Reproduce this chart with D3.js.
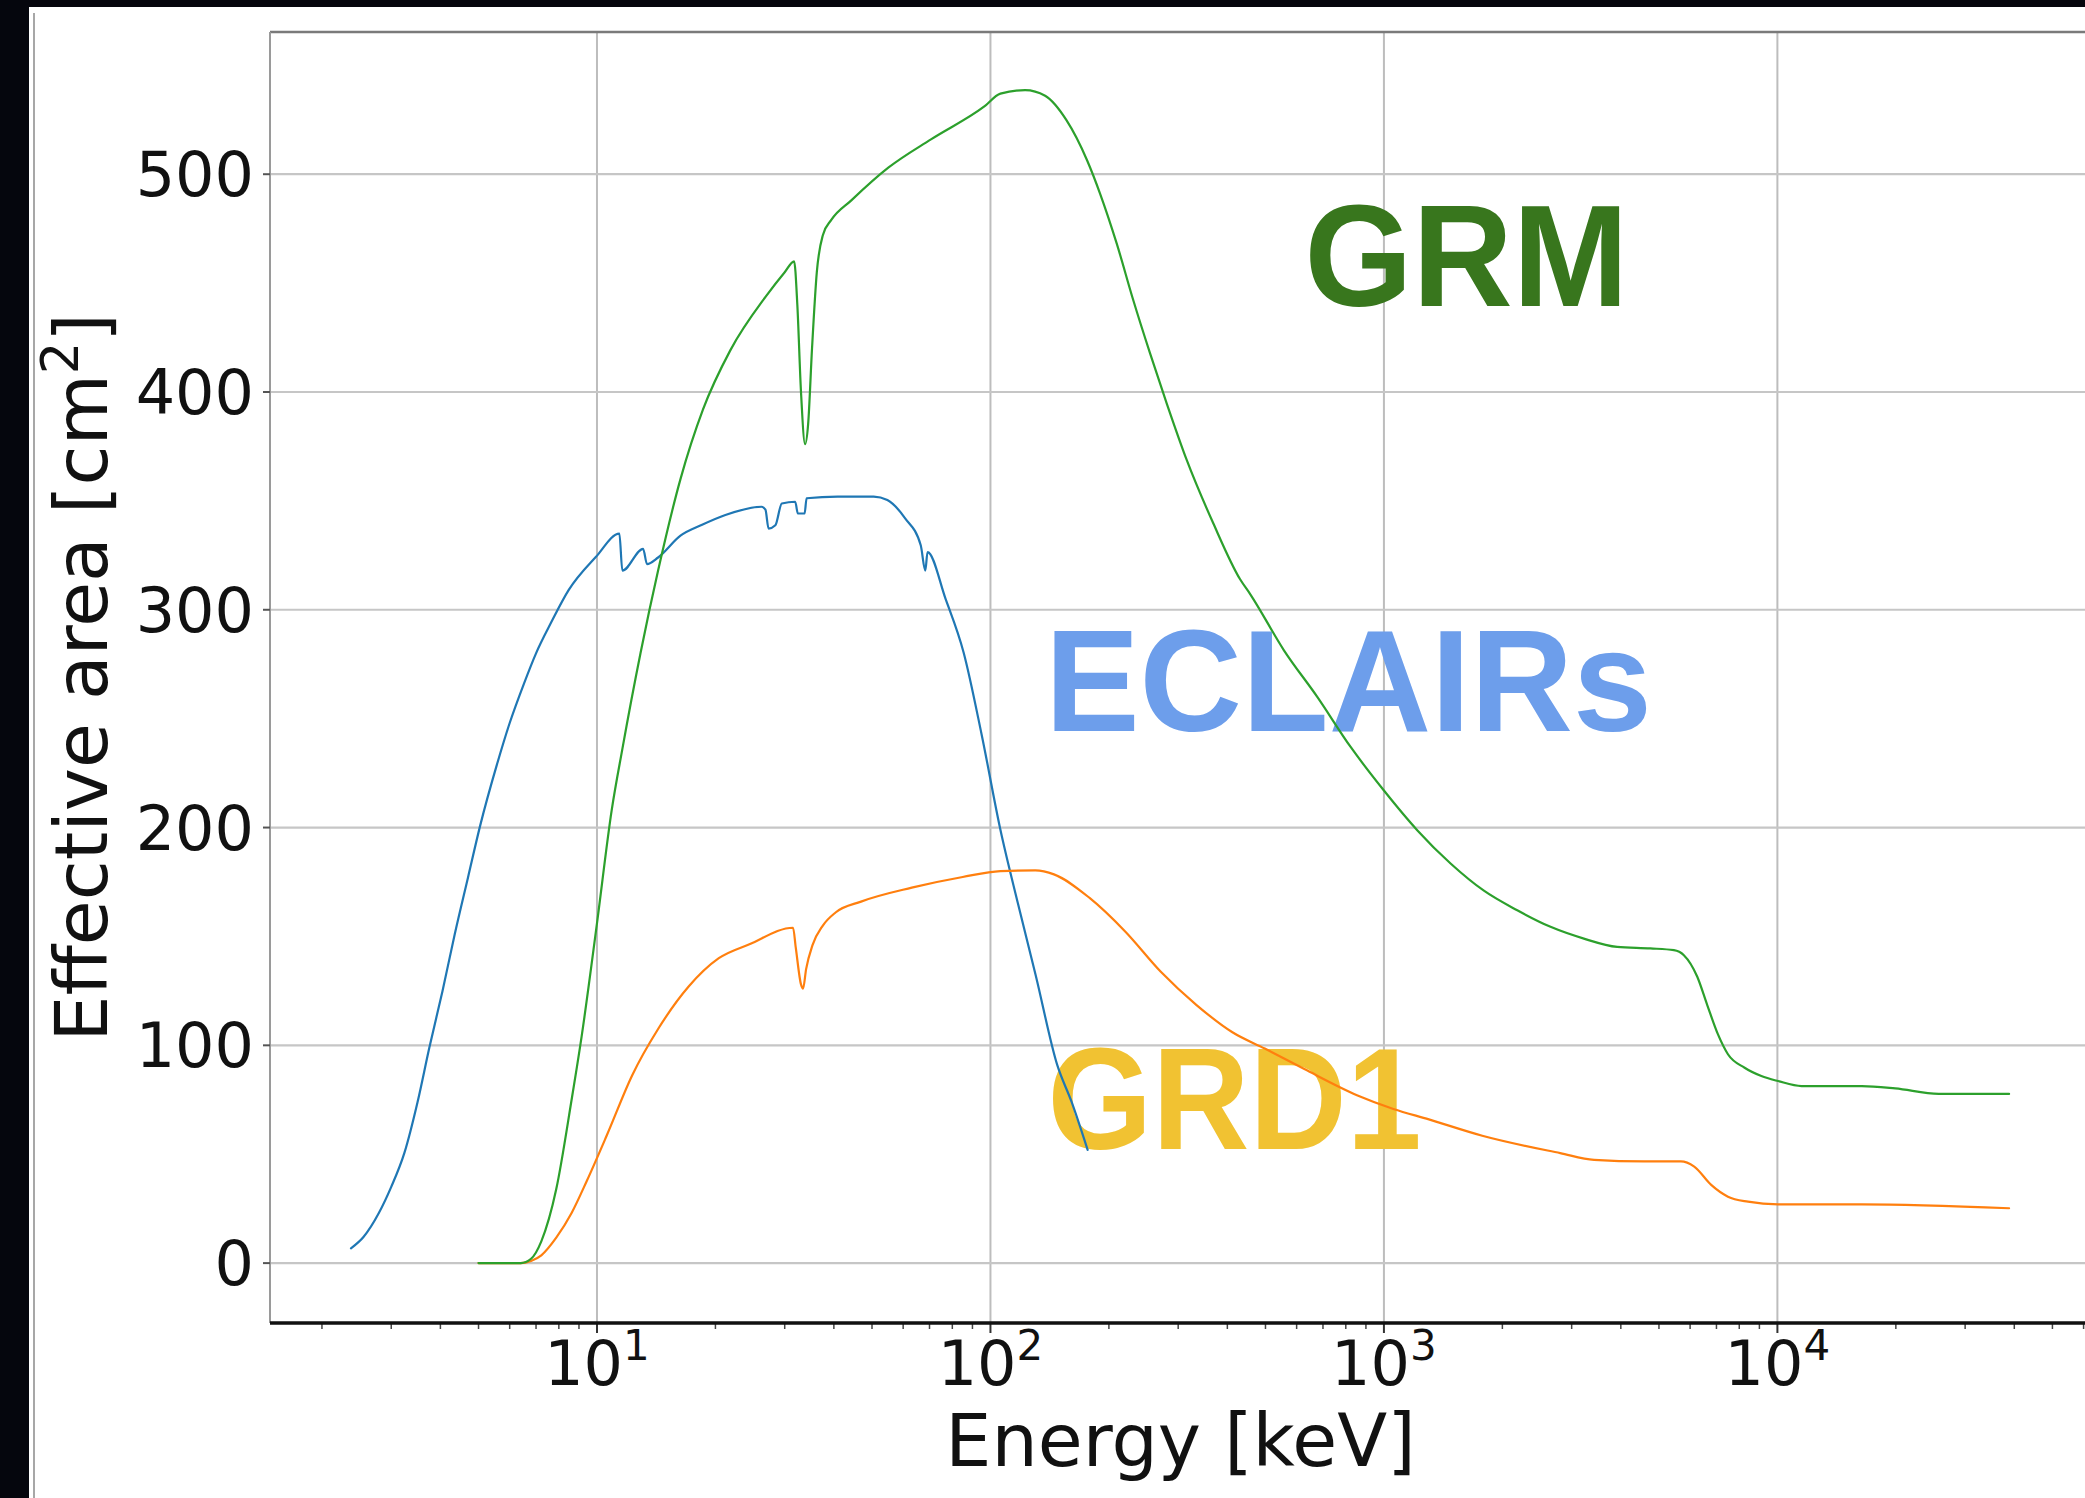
<!DOCTYPE html>
<html>
<head>
<meta charset="utf-8">
<script src="https://cdn.jsdelivr.net/npm/d3@7"></script>
<style>
  html, body { margin: 0; padding: 0; background: #05060d; }
  svg { display: block; }
</style>
</head>
<body>
<div id="chart"></div>
<script>
// effective area curves, [energy keV, area cm^2]
const eclairs = [
    [2.37, 6.8], [2.55, 12], [2.79, 23], [3.0, 35], [3.24, 50.6], [3.5, 74], [3.75, 99],
    [4.05, 125], [4.35, 151], [4.7, 177], [5.05, 201], [5.57, 229], [6.0, 248], [6.52, 266],
    [7.0, 280], [7.64, 294], [8.47, 309], [9.93, 324.2], [11.4, 335], [11.6, 318], [13.1, 328],
    [13.4, 321], [14.3, 324], [16.3, 334], [18.5, 339], [21.2, 343.5], [26.2, 347.3],
    [26.8, 346], [27.3, 337.3], [28.4, 338.8], [29.5, 348.8], [31.9, 349.6], [32.4, 344.2],
    [33.7, 344.2], [34.1, 351.2], [40.9, 352], [50.5, 352], [54.7, 350.4], [60.7, 342],
    [66.5, 329.6], [68.3, 318], [69.2, 326.5], [76.9, 305], [85.5, 280.3], [94.9, 243],
    [106, 199], [117.5, 165], [130.4, 132], [147.8, 91], [160.8, 74], [176.6, 52]
];
const grd1 = [
    [5.0, 0], [6.4, 0], [6.8, 1], [7.22, 3.6], [7.88, 11.7], [8.62, 23], [9.42, 37.7],
    [10.6, 58.8], [12.3, 86.4], [14.3, 107.5], [17.1, 127], [20.4, 140], [24.4, 146.4],
    [31.5, 154], [32.0, 145], [33.0, 128], [33.4, 126], [34.0, 135], [35.3, 146],
    [37.5, 155], [40.4, 161], [46.9, 166], [63.1, 172.4], [85, 177.3], [106, 180],
    [130, 180.3], [145, 178.5], [178.6, 167.7], [220, 152.3], [271, 133.8], [334, 118.5],
    [412, 106], [498, 98.5], [626, 89.2], [857, 77], [1057, 70.8], [1301, 66], [1778, 58.5],
    [2806, 50.5], [3420, 47.4], [4583, 46.7], [5683, 46.7], [6147, 44.3], [6788, 35.9],
    [7487, 30.5], [8420, 28.2], [10040, 27], [16380, 27], [38800, 25.2]
];
const grm = [
    [5.0, 0], [6.4, 0], [6.8, 2], [7.22, 10], [7.88, 34], [8.62, 75], [9.14, 104], [10, 156],
    [10.9, 208], [11.6, 236], [12.9, 280], [14.3, 318], [16.3, 360], [18.6, 392], [21.8, 419],
    [26.9, 444], [30.0, 455], [31.7, 460], [32.3, 440], [33.0, 400], [33.8, 376], [34.4, 385],
    [35.2, 420], [36.2, 455], [37.5, 472], [39.4, 479], [44.3, 488], [55, 503], [70.6, 516],
    [96.3, 531], [106, 537], [122.5, 538.6], [137.7, 536], [156, 524.8], [176, 506.4],
    [190, 491], [209.5, 468], [230.8, 442], [254.5, 417.7], [280.6, 394.7], [315.5, 368.7],
    [368.6, 339.6], [431, 314], [458, 307], [557, 281.4], [677, 260], [823, 237], [1000, 217],
    [1215, 198.8], [1477, 183.5], [1795, 171], [2182, 162], [2651, 154.4], [3222, 149],
    [3915, 145.2], [4756, 144.5], [5456, 143.7], [5785, 141.4], [6257, 131.5], [6633, 118.5],
    [7063, 105], [7487, 95.9], [8254, 89.7], [9104, 85.9], [10040, 83.6], [11520, 81.3],
    [16380, 81.3], [19930, 80.2], [25700, 77.7], [38800, 77.7]
];
const yTicks = [0, 100, 200, 300, 400, 500];
const xTickExps = [1, 2, 3, 4];
const instrumentNames = ["GRM", "ECLAIRs", "GRD1"];

const width = 2085, height = 1498;
const plot = { left: 270, right: 2091, top: 32, bottom: 1323 };

const colors = {
    eclairs: "#1f77b4",
    grd1: "#ff7f0e",
    grm: "#2ca02c",
    labels: { GRM: "#38761d", ECLAIRs: "#6d9eeb", GRD1: "#f1c232" }
};
// where each name sits, in data units (energy, area), and how much its width is squeezed
const labelAnchor = { GRM: [628, 439.5], ECLAIRs: [137.6, 244.3], GRD1: [139.6, 52.4] };
const labelSqueeze = { GRM: 0.964, ECLAIRs: 0.985, GRD1: 0.935 };

const svg = d3.select("#chart").append("svg")
    .attr("width", width)
    .attr("height", height);

// dark backdrop and the white slide panel
svg.append("rect").attr("width", width).attr("height", height).attr("fill", "#05060d");
svg.append("rect")
    .attr("x", 29).attr("y", 7)
    .attr("width", width - 29).attr("height", height - 7)
    .attr("fill", "#ffffff");
svg.append("line")
    .attr("x1", 34).attr("x2", 34).attr("y1", 13).attr("y2", height)
    .attr("stroke", "#8a8a8a").attr("stroke-width", 1.5);

const x = d3.scaleLog()
    .domain([Math.pow(10, 0.169), Math.pow(10, 4.797)])
    .range([plot.left, plot.right]);
const y = d3.scaleLinear()
    .domain([-27.5, 565.3])
    .range([plot.bottom, plot.top]);

svg.append("clipPath").attr("id", "plot-clip")
    .append("rect")
    .attr("x", plot.left).attr("y", plot.top)
    .attr("width", plot.right - plot.left).attr("height", plot.bottom - plot.top);

// grid
const majors = xTickExps.map(e => Math.pow(10, e));
svg.append("g").selectAll("line")
    .data(majors)
    .enter().append("line")
    .attr("x1", d => x(d)).attr("x2", d => x(d))
    .attr("y1", plot.top).attr("y2", plot.bottom)
    .attr("stroke", "#bdbdbd").attr("stroke-width", 2);
svg.append("g").selectAll("line")
    .data(yTicks)
    .enter().append("line")
    .attr("x1", plot.left).attr("x2", plot.right)
    .attr("y1", d => y(d)).attr("y2", d => y(d))
    .attr("stroke", "#c6c6c6").attr("stroke-width", 2.2);

// spines
svg.append("line")
    .attr("x1", plot.left).attr("x2", plot.right).attr("y1", plot.top).attr("y2", plot.top)
    .attr("stroke", "#7a7a7a").attr("stroke-width", 2.5);
svg.append("line")
    .attr("x1", plot.left).attr("x2", plot.left).attr("y1", plot.top).attr("y2", plot.bottom)
    .attr("stroke", "#9a9a9a").attr("stroke-width", 2);

// y ticks + labels
const yAxis = svg.append("g");
yAxis.selectAll("line")
    .data(yTicks)
    .enter().append("line")
    .attr("x1", plot.left - 7).attr("x2", plot.left)
    .attr("y1", d => y(d)).attr("y2", d => y(d))
    .attr("stroke", "#555").attr("stroke-width", 2);
yAxis.selectAll("text")
    .data(yTicks)
    .enter().append("text")
    .attr("x", plot.left - 16)
    .attr("y", d => y(d) + 22)
    .attr("text-anchor", "end")
    .style("font", "62px 'DejaVu Sans'")
    .attr("fill", "#111")
    .text(d => d);

// x minor + major ticks
const minors = [];
for (let e = 0; e <= 4; e++) {
    for (let k = 2; k <= 9; k++) {
        const v = k * Math.pow(10, e);
        if (v > x.domain()[0] && v < x.domain()[1]) minors.push(v);
    }
}
const xAxis = svg.append("g");
xAxis.selectAll(".minor")
    .data(minors)
    .enter().append("line")
    .attr("class", "minor")
    .attr("x1", d => x(d)).attr("x2", d => x(d))
    .attr("y1", plot.bottom).attr("y2", plot.bottom + 6)
    .attr("stroke", "#444").attr("stroke-width", 1.5);
xAxis.selectAll(".major")
    .data(majors)
    .enter().append("line")
    .attr("class", "major")
    .attr("x1", d => x(d)).attr("x2", d => x(d))
    .attr("y1", plot.bottom).attr("y2", plot.bottom + 10)
    .attr("stroke", "#333").attr("stroke-width", 2);
const xl = xAxis.selectAll(".xlab")
    .data(xTickExps)
    .enter().append("text")
    .attr("class", "xlab")
    .attr("x", d => x(Math.pow(10, d)))
    .attr("y", 1385)
    .attr("text-anchor", "middle")
    .attr("fill", "#111")
    .style("font", "62px 'DejaVu Sans'");
xl.append("tspan").text("10");
xl.append("tspan").attr("dy", -25).style("font-size", "42px").text(d => d);

svg.append("line")
    .attr("x1", plot.left).attr("x2", plot.right).attr("y1", plot.bottom).attr("y2", plot.bottom)
    .attr("stroke", "#111").attr("stroke-width", 3.5);

// axis titles
svg.append("text")
    .attr("x", (plot.left + plot.right) / 2)
    .attr("y", 1466)
    .attr("text-anchor", "middle")
    .attr("fill", "#111")
    .style("font", "73px 'DejaVu Sans'")
    .text("Energy [keV]");

const yt = svg.append("text")
    .attr("transform", `translate(107,${(plot.top + plot.bottom) / 2}) rotate(-90)`)
    .attr("text-anchor", "middle")
    .attr("fill", "#111")
    .style("font", "73px 'DejaVu Sans'");
yt.append("tspan").text("Effective area [cm");
yt.append("tspan").attr("dy", -29).style("font-size", "51px").text("2");
yt.append("tspan").attr("dy", 29).text("]");

// instrument names
svg.append("g").selectAll("text")
    .data(instrumentNames)
    .enter().append("text")
    .attr("x", d => x(labelAnchor[d][0]))
    .attr("y", d => y(labelAnchor[d][1]))
    .attr("fill", d => colors.labels[d])
    .style("font", "bold 144px 'Liberation Sans', Arial, sans-serif")
    .text(d => d)
    .each(function (d) {
        const len = this.getComputedTextLength();
        d3.select(this)
            .attr("textLength", len * labelSqueeze[d])
            .attr("lengthAdjust", "spacingAndGlyphs");
    });

// curves
const line = d3.line()
    .x(d => x(d[0]))
    .y(d => y(d[1]))
    .curve(d3.curveMonotoneX);

const curves = svg.append("g").attr("clip-path", "url(#plot-clip)");
[[eclairs, colors.eclairs], [grd1, colors.grd1], [grm, colors.grm]].forEach(([data, color]) => {
    curves.append("path")
        .datum(data)
        .attr("fill", "none")
        .attr("stroke", color)
        .attr("stroke-width", 2.2)
        .attr("stroke-linejoin", "round")
        .attr("stroke-linecap", "round")
        .attr("d", line);
});
</script>
</body>
</html>
